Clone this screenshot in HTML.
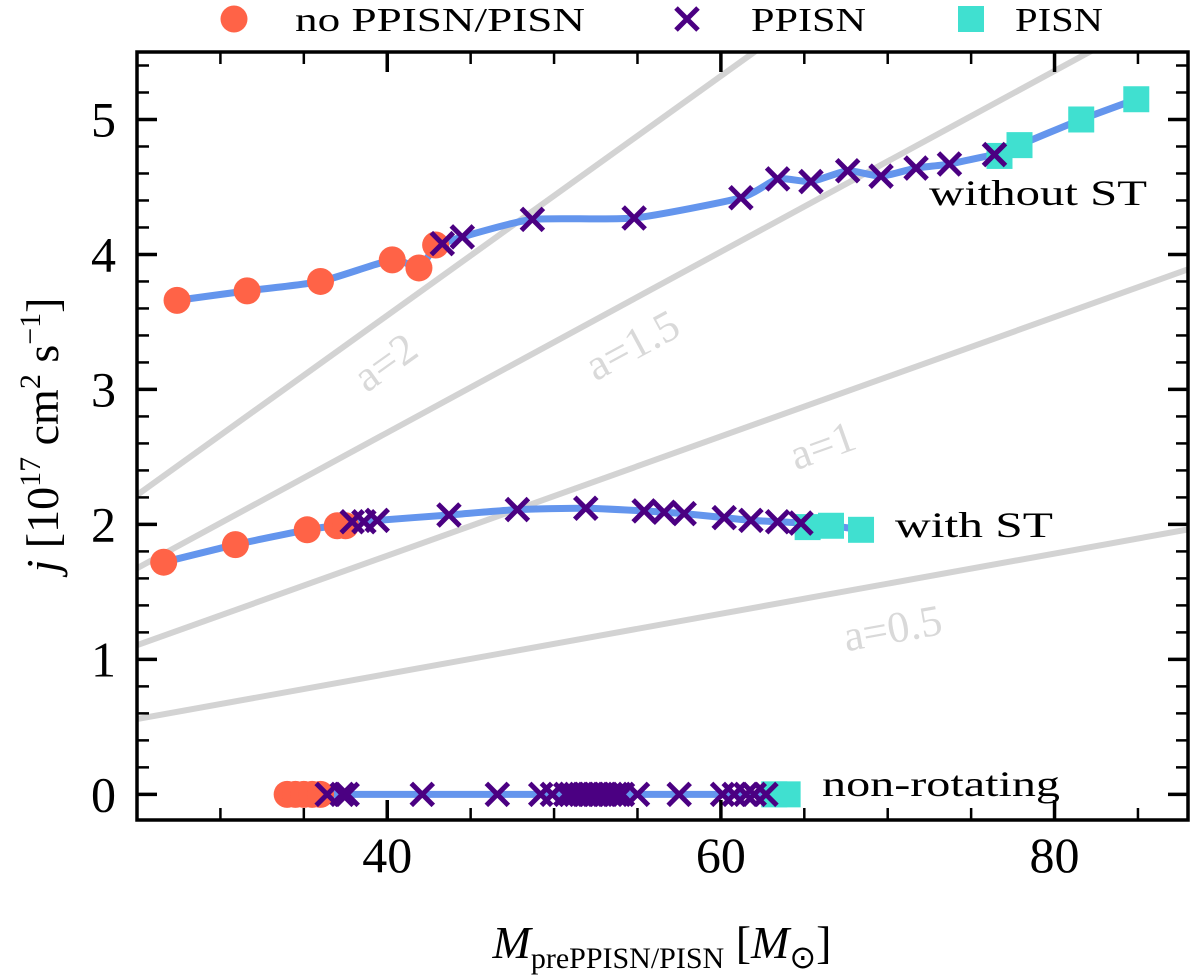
<!DOCTYPE html>
<html><head><meta charset="utf-8"><style>
body{margin:0;background:#fff}
svg{display:block;font-family:"Liberation Serif",serif}
</style></head><body>
<div style="position:relative;width:1200px;height:978px">
<svg id="chart" width="1200" height="978" viewBox="0 0 1200 978" style="position:absolute;left:0;top:0">
<g id="grid"></g>
<g id="series"></g>
<g id="axes"></g>
<g id="legend"></g>
<text x="662" y="958" font-size="46" text-anchor="middle"><tspan font-style="italic">M</tspan><tspan font-size="30" dy="10">prePPISN/PISN</tspan><tspan dy="-10"> [</tspan><tspan font-style="italic">M</tspan><tspan font-size="32" dy="10">⊙</tspan><tspan dy="-10">]</tspan></text>
<text transform="translate(58 435) rotate(-90)" font-size="46" text-anchor="middle"><tspan font-style="italic">j</tspan> [10<tspan font-size="30" dy="-18">17</tspan><tspan dy="18"> cm</tspan><tspan font-size="30" dy="-18">2</tspan><tspan dy="18"> s</tspan><tspan font-size="30" dy="-18">−1</tspan><tspan dy="18">]</tspan></text>
</svg>
</div>
<script>
const slopeLabels=["a=0.5","a=1","a=1.5","a=2"];
const slopeCoef=[0.0223,0.0442,0.0670,0.0887];
const slopeLabelM=[70.3,66.1,54.7,39.9];
const withoutSTM=[27.4,31.6,36.0,40.3,41.9,42.9,43.3,44.5,48.7,54.8,61.2,63.4,65.4,67.6,69.6,71.7,73.7,76.4,76.7,77.9,81.6,84.9];
const withoutSTJ=[3.66,3.73,3.80,3.96,3.90,4.07,4.08,4.13,4.26,4.27,4.42,4.56,4.54,4.62,4.58,4.64,4.67,4.74,4.73,4.81,5.00,5.15];
const withoutSTType=["c","c","c","c","c","c","x","x","x","x","x","x","x","x","x","x","x","x","s","s","s","s"];
const withSTM=[26.6,30.9,35.2,37.0,37.5,37.9,38.6,39.4,43.7,47.8,51.9,55.4,56.6,57.8,60.2,61.8,63.4,64.8,65.2,66.6,68.4];
const withSTJ=[1.72,1.85,1.96,1.99,1.99,2.02,2.02,2.03,2.07,2.11,2.12,2.10,2.09,2.08,2.05,2.03,2.02,2.01,1.98,1.99,1.96];
const withSTType=["c","c","c","c","c","x","x","x","x","x","x","x","x","x","x","x","x","x","s","s","s"];
const nonRotM=[34.0,34.5,35.0,35.5,36.0,36.4,37.3,37.6,42.1,46.6,49.2,49.9,50.7,51.0,51.3,51.6,51.9,52.2,52.5,52.8,53.1,53.4,53.7,54.1,55.0,57.5,60.1,60.8,61.5,62.0,62.7,63.2,64.0];
const nonRotJ=nonRotM.map(()=>0);
const nonRotType=["c","c","c","c","c","x","x","x","x","x","x","x","x","x","x","x","x","x","x","x","x","x","x","x","x","x","x","x","x","x","x","s","s"];
const xTicks=[40,60,80];
const yTicks=[0,1,2,3,4,5];

const X0=137,X1=1188,Y0=52,Y1=820,xmin=25,xmax=88,ymin=-0.19,ymax=5.5;
const sx=m=>X0+(m-xmin)/(xmax-xmin)*(X1-X0);
const sy=j=>Y1-(j-ymin)/(ymax-ymin)*(Y1-Y0);
const NS="http://www.w3.org/2000/svg";
function mk(tag,attrs,parent,text){const e=document.createElementNS(NS,tag);for(const k in attrs)e.setAttribute(k,attrs[k]);if(text!==undefined)e.textContent=text;parent.appendChild(e);return e;}
const grid=document.getElementById('grid'),series=document.getElementById('series'),axes=document.getElementById('axes'),legend=document.getElementById('legend');
const clip=mk('clipPath',{id:'pc'},mk('defs',{},document.getElementById('chart')));
mk('rect',{x:X0,y:Y0,width:X1-X0,height:Y1-Y0},clip);
grid.setAttribute('clip-path','url(#pc)');series.setAttribute('clip-path','url(#pc)');
slopeCoef.forEach((c,i)=>{
  const l=mk('line',{x1:sx(xmin),y1:sy(c*xmin),x2:sx(xmax),y2:sy(c*xmax),stroke:'#d3d3d3','stroke-width':6},grid);
  
  
  const m=slopeLabelM[i];const px=sx(m),py=sy(c*m)+46;
  const ang=-Math.atan(c*(Y1-Y0)/(ymax-ymin)/((X1-X0)/(xmax-xmin)))*180/Math.PI;
  const t=mk('text',{x:px,y:py+14,'font-size':44,fill:'#d9d9d9','text-anchor':'middle',transform:`rotate(${ang} ${px} ${py})`},grid,slopeLabels[i]);
  
  
});
function smooth(pts){const k=10;let d=`M${pts[0][0]},${pts[0][1]}`;for(let i=0;i<pts.length-1;i++){const p0=pts[Math.max(0,i-1)],p1=pts[i],p2=pts[i+1],p3=pts[Math.min(pts.length-1,i+2)];d+=` C${p1[0]+(p2[0]-p0[0])/k},${p1[1]+(p2[1]-p0[1])/k} ${p2[0]-(p3[0]-p1[0])/k},${p2[1]-(p3[1]-p1[1])/k} ${p2[0]},${p2[1]}`;}return d;}
function marker(type,x,y,g){
  let e;
  if(type==='c'){e=mk('circle',{cx:x,cy:y,r:13.5,fill:'#ff6347'},g);}
  else if(type==='s'){e=mk('rect',{x:x-13,y:y-13,width:26,height:26,fill:'#40e0d0'},g);}
  else{e=mk('path',{d:`M${x-11},${y-11}L${x+11},${y+11}M${x-11},${y+11}L${x+11},${y-11}`,stroke:'#4b0082','stroke-width':5,fill:'none'},g);}
  return e;
}
function drawSeries(M,J,T,name){
  const g=mk('g',{},series);
  
  
  const pts=M.map((m,i)=>[sx(m),sy(J[i])]);
  const p=mk('path',{d:smooth(pts),stroke:'#6495ed','stroke-width':7,fill:'none'},g);
  
  
  const order=[...M.keys()].sort((a,b)=>({c:0,s:1,x:2}[T[a]]-{c:0,s:1,x:2}[T[b]]));
  order.forEach(i=>{const e=marker(T[i],sx(M[i]),sy(J[i]),g);
    
    });
}
drawSeries(withoutSTM,withoutSTJ,withoutSTType,'without-st-series');
drawSeries(withSTM,withSTJ,withSTType,'with-st-series');
drawSeries(nonRotM,nonRotJ,nonRotType,'non-rotating-series');
[["without ST",929,205,218],["with ST",895,537,158],["non-rotating",822,796,238]].forEach(([t,x,y,w])=>{
  const e=mk('text',{x:x,y:y,'font-size':36,fill:'#000',textLength:w,lengthAdjust:'spacingAndGlyphs'},axes,t);
  
  
});
const fr=mk('rect',{x:X0,y:Y0,width:X1-X0,height:Y1-Y0,fill:'none',stroke:'#000','stroke-width':3.5},axes);


for(let m=30;m<=85;m+=5){const maj=xTicks.includes(m);const L=maj?20:12;const x=sx(m);
  mk('line',{x1:x,y1:Y1,x2:x,y2:Y1-L,stroke:'#000','stroke-width':maj?3.5:2.5},axes);
  mk('line',{x1:x,y1:Y0,x2:x,y2:Y0+L,stroke:'#000','stroke-width':maj?3.5:2.5},axes);}
for(let k=0;k<=27;k++){const j=k*0.2;if(j>ymax)break;const maj=Math.abs(j-Math.round(j))<1e-6;const L=maj?20:12;const y=sy(j);
  mk('line',{x1:X0,y1:y,x2:X0+L,y2:y,stroke:'#000','stroke-width':maj?3.5:2.5},axes);
  mk('line',{x1:X1,y1:y,x2:X1-L,y2:y,stroke:'#000','stroke-width':maj?3.5:2.5},axes);}
xTicks.forEach(v=>{const t=mk('text',{x:sx(v),y:872,'font-size':50,'text-anchor':'middle'},axes,v);
  
  });
yTicks.forEach(v=>{const t=mk('text',{x:116,y:sy(v)+17,'font-size':50,'text-anchor':'end'},axes,v);
  
  });
const lg=[["c","no PPISN/PISN",234,295,290],["x","PPISN",687,751,115],["s","PISN",971,1015,88]];
lg.forEach(([ty,txt,mx,tx,w])=>{
  const e=marker(ty,mx,19,legend);
  
  
  const t=mk('text',{x:tx,y:31,'font-size':34,textLength:w,lengthAdjust:'spacingAndGlyphs'},legend,txt);
  
  
});
</script>
</body></html>
